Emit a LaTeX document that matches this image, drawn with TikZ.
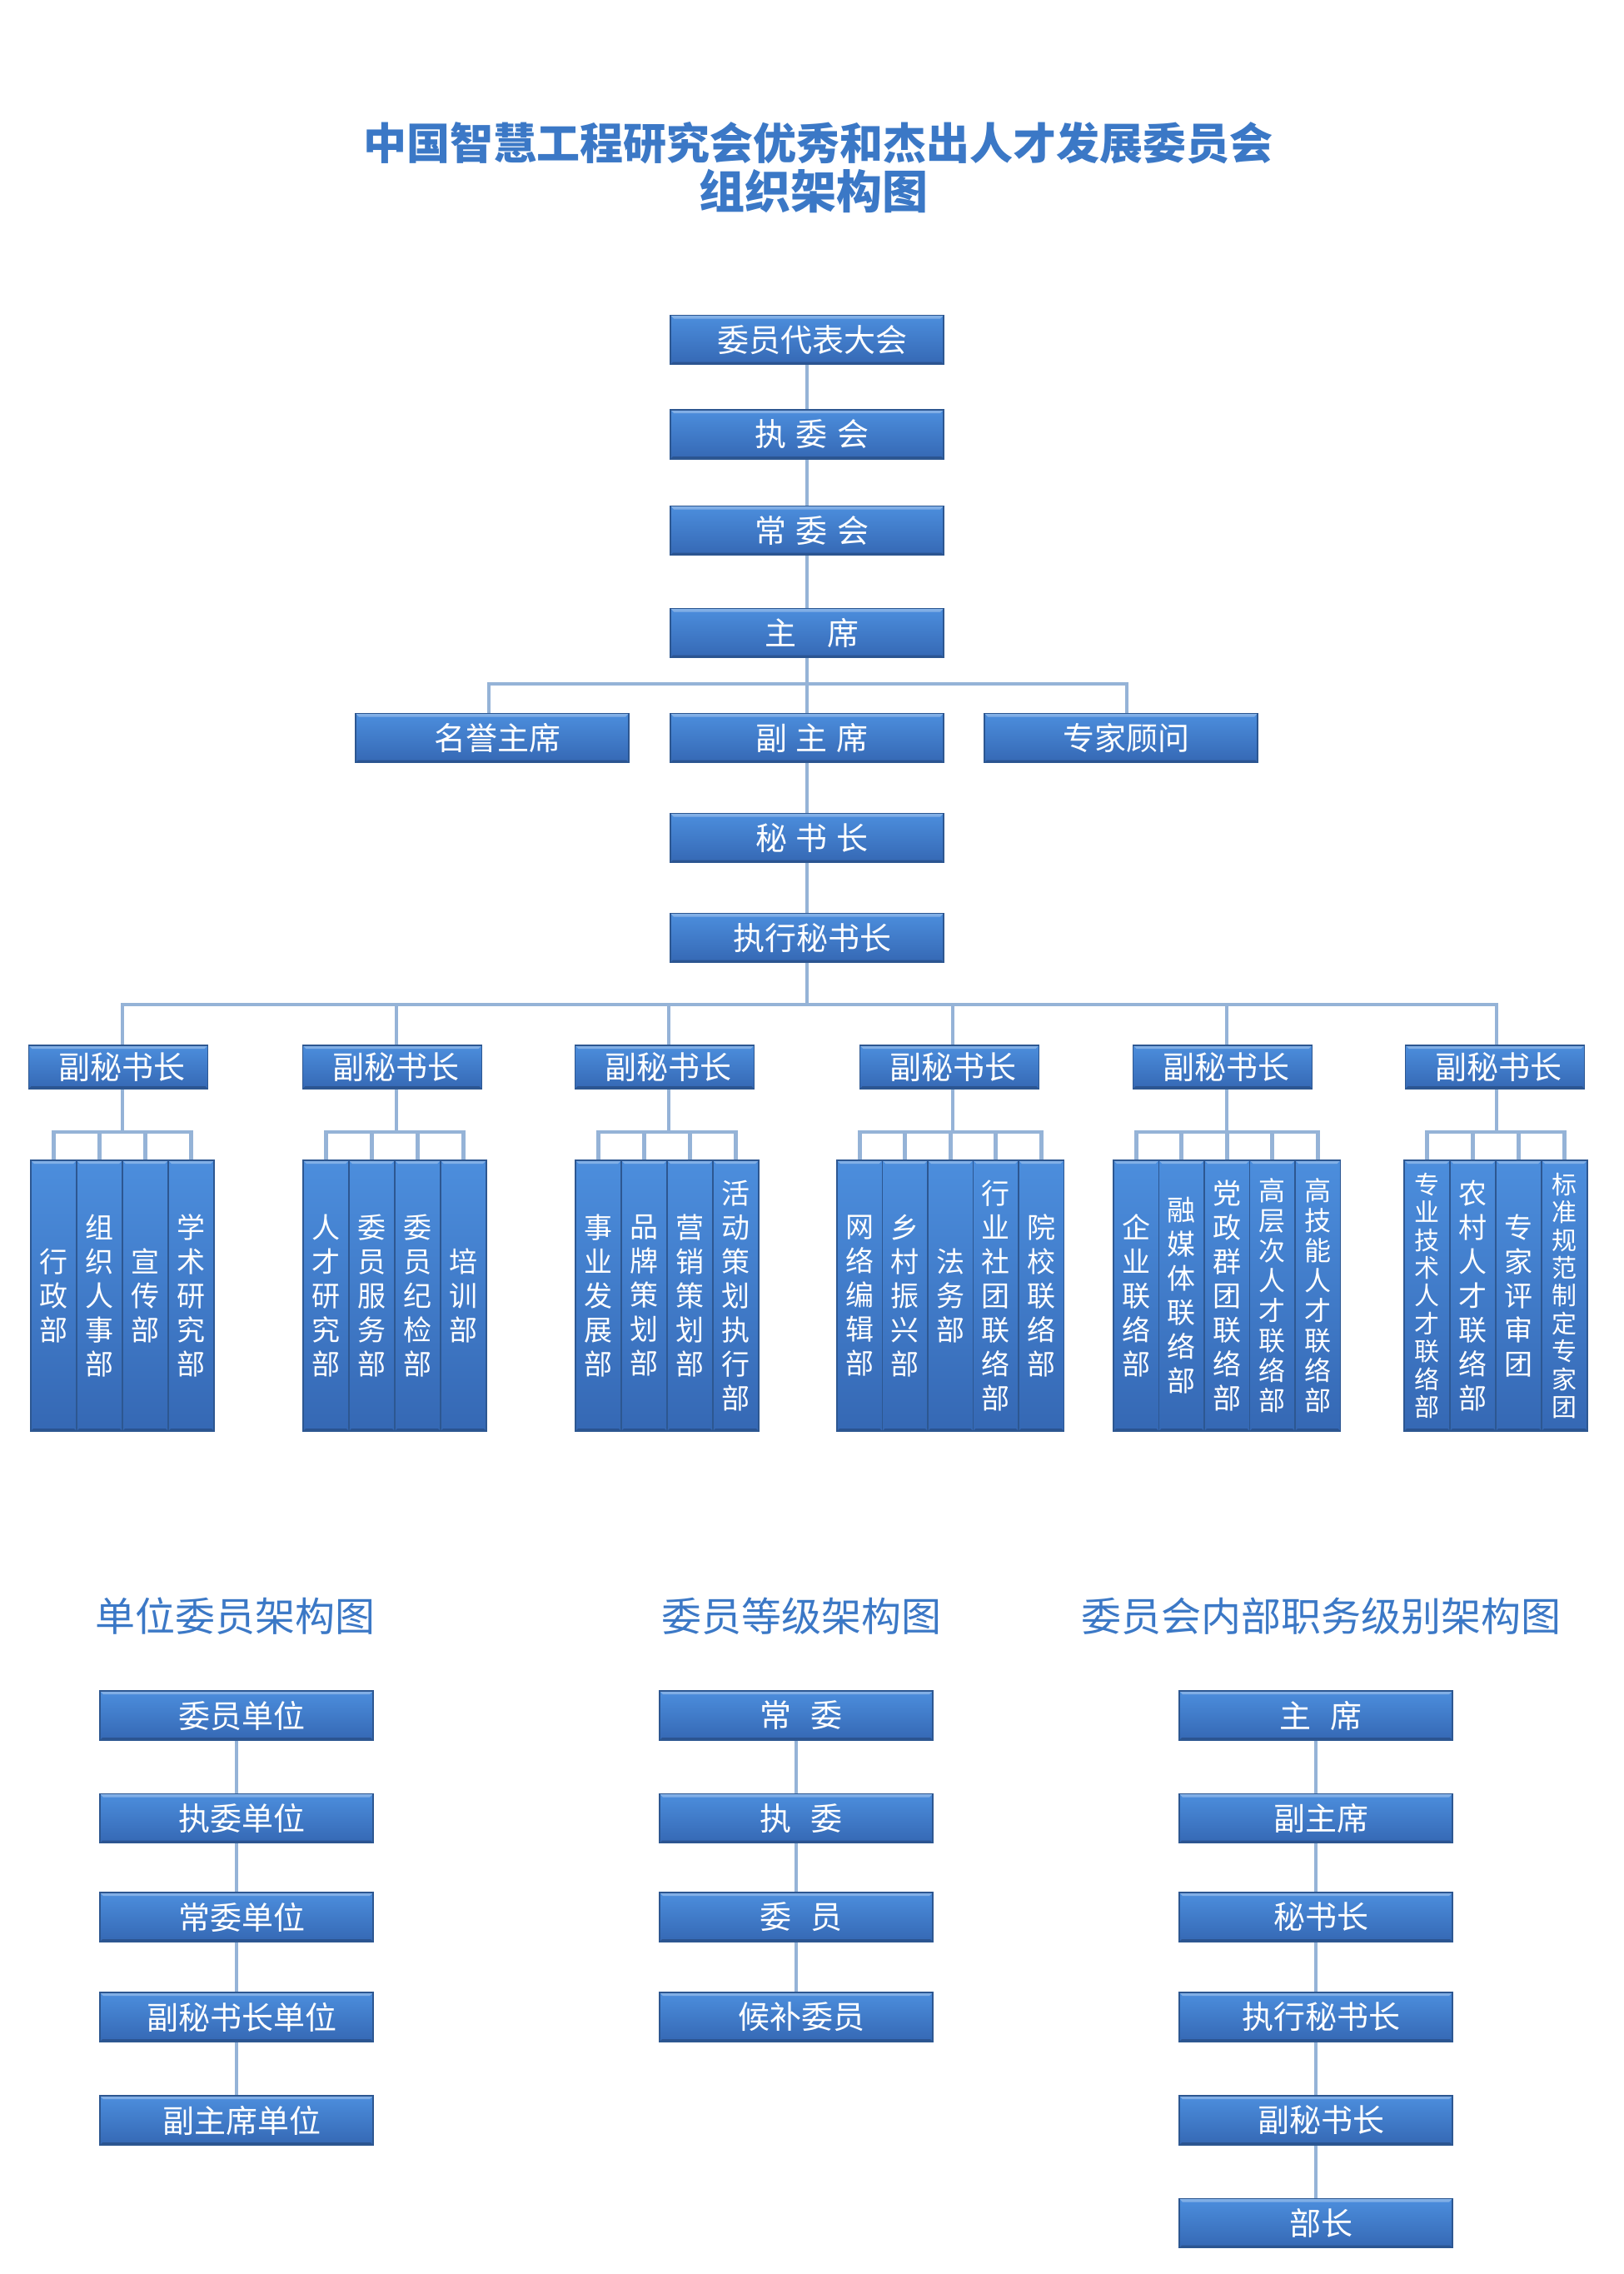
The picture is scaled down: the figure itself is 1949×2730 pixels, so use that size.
\documentclass[tikz,border=0pt]{standalone}
\usepackage{fontspec}
\newfontfamily\cjk{Noto Sans CJK SC}
\usetikzlibrary{calc}
\definecolor{boxtop}{HTML}{4C8EDD}
\definecolor{boxbot}{HTML}{3568B4}
\definecolor{boxline}{HTML}{2D5791}
\definecolor{connc}{HTML}{95B3D7}
\definecolor{titlec}{HTML}{3B78C6}
\newcommand\hgap[1]{\hspace{#1em}}
\tikzset{
  base/.style={rectangle, inner sep=0pt, top color=boxtop, bottom color=boxbot,
    draw=boxline, line width=0.6pt, text=white,
    path picture={
      \fill[white,opacity=0.3] (path picture bounding box.north west) -- (path picture bounding box.north east)
        -- ([xshift=-2pt,yshift=-2pt]path picture bounding box.north east) -- ([xshift=2pt,yshift=-2pt]path picture bounding box.north west) -- cycle;
      \fill[black,opacity=0.2] (path picture bounding box.south west) -- (path picture bounding box.south east)
        -- ([xshift=-1.5pt,yshift=1.5pt]path picture bounding box.south east) -- ([xshift=1.5pt,yshift=1.5pt]path picture bounding box.south west) -- cycle;
    }},
  hbox/.style={base, minimum width=164pt, minimum height=29.5pt, font=\cjk\fontsize{19}{22}\selectfont,
    execute at begin node=\hspace*{6pt}},
  sbox/.style={base, minimum width=107.5pt, minimum height=26pt, font=\cjk\fontsize{19}{22}\selectfont,
    execute at begin node=\hspace*{4pt}},
  vbox/.style={base, minimum width=27.5pt, minimum height=162.5pt, align=center, font=\cjk\fontsize{17}{20.5}\selectfont},
  vbox5/.style={vbox, minimum width=27.25pt},
  vboxs/.style={vbox5, font=\cjk\fontsize{16}{18}\selectfont},
  vboxt/.style={vbox, font=\cjk\fontsize{15}{16.7}\selectfont},
  conn/.style={draw=connc, line width=2.4pt},
  ttl/.style={text=titlec, align=center, inner sep=0pt},
}
\begin{document}
\begin{tikzpicture}[x=0.5pt,y=-0.5pt]
\useasboundingbox[fill=white] (0,0) rectangle (1949,2730);

% title
\node[ttl, font=\cjk\bfseries\fontsize{26}{28.5}\selectfont] (title) at (982,172) {中国智慧工程研究会优秀和杰出人才发展委员会};
\node[ttl, font=\cjk\bfseries\fontsize{27.5}{30}\selectfont] (title2) at (977,229) {组织架构图};

% main chain
\node[hbox] (n1) at (969,408) {委员代表大会};
\node[hbox] (n2) at (969,521.5) {执\hgap{0.3}委\hgap{0.3}会};
\node[hbox] (n3) at (969,637) {常\hgap{0.3}委\hgap{0.3}会};
\node[hbox] (n4) at (969,760) {主\hgap{1}席};
\node[hbox] (hon) at (591,886) {名誉主席};
\node[hbox] (vp) at (969,886) {副\hgap{0.28}主\hgap{0.28}席};
\node[hbox] (adv) at (1346,886) {专家顾问};
\node[hbox] (sg) at (969,1006) {秘\hgap{0.28}书\hgap{0.28}长};
\node[hbox] (esg) at (969,1126) {执行秘书长};

\coordinate (h1) at (969,821);
\coordinate (h2) at (969,1206);
\coordinate (bk) at (0,1359);

\draw[conn] (n1.south) -- (n2.north);
\draw[conn] (n2.south) -- (n3.north);
\draw[conn] (n3.south) -- (n4.north);
\draw[conn] (n4.south) -- (vp.north);
\draw[conn] ([xshift=-2pt]hon.north) |- (h1) -| ([xshift=3.5pt]adv.north);
\draw[conn] (vp.south) -- (sg.north);
\draw[conn] (sg.south) -- (esg.north);
\draw[conn] (esg.south) -- (h2);

% deputy secretaries
\node[sbox] (d1) at (142,1281) {副秘书长};
\node[sbox] (d2) at (471,1281) {副秘书长};
\node[sbox] (d3) at (798,1281) {副秘书长};
\node[sbox] (d4) at (1140,1281) {副秘书长};
\node[sbox] (d5) at (1468,1281) {副秘书长};
\node[sbox] (d6) at (1795,1281) {副秘书长};

% group 1
\node[vbox] (c11) at (64.5,1555.5) {行\\政\\部};
\node[vbox] (c12) at (119.5,1555.5) {组\\织\\人\\事\\部};
\node[vbox] (c13) at (174.5,1555.5) {宣\\传\\部};
\node[vbox] (c14) at (229.5,1555.5) {学\\术\\研\\究\\部};
% group 2
\node[vbox] (c21) at (391.5,1555.5) {人\\才\\研\\究\\部};
\node[vbox] (c22) at (446.5,1555.5) {委\\员\\服\\务\\部};
\node[vbox] (c23) at (501.5,1555.5) {委\\员\\纪\\检\\部};
\node[vbox] (c24) at (556.5,1555.5) {培\\训\\部};
% group 3
\node[vbox] (c31) at (718.5,1555.5) {事\\业\\发\\展\\部};
\node[vbox] (c32) at (773.5,1555.5) {品\\牌\\策\\划\\部};
\node[vbox] (c33) at (828.5,1555.5) {营\\销\\策\\划\\部};
\node[vbox] (c34) at (883.5,1555.5) {活\\动\\策\\划\\执\\行\\部};
% group 4
\node[vbox5] (c41) at (1032.25,1555.5) {网\\络\\编\\辑\\部};
\node[vbox5] (c42) at (1086.75,1555.5) {乡\\村\\振\\兴\\部};
\node[vbox5] (c43) at (1141.25,1555.5) {法\\务\\部};
\node[vbox5] (c44) at (1195.75,1555.5) {行\\业\\社\\团\\联\\络\\部};
\node[vbox5] (c45) at (1250.25,1555.5) {院\\校\\联\\络\\部};
% group 5
\node[vbox5] (c51) at (1364.25,1555.5) {企\\业\\联\\络\\部};
\node[vbox5] (c52) at (1418.75,1555.5) {融\\媒\\体\\联\\络\\部};
\node[vbox5] (c53) at (1473.25,1555.5) {党\\政\\群\\团\\联\\络\\部};
\node[vboxs] (c54) at (1527.75,1555.5) {高\\层\\次\\人\\才\\联\\络\\部};
\node[vboxs] (c55) at (1582.25,1555.5) {高\\技\\能\\人\\才\\联\\络\\部};
% group 6
\node[vboxt] (c61) at (1713.5,1555.5) {专\\业\\技\\术\\人\\才\\联\\络\\部};
\node[vbox] (c62) at (1768.5,1555.5) {农\\村\\人\\才\\联\\络\\部};
\node[vbox] (c63) at (1823.5,1555.5) {专\\家\\评\\审\\团};
\node[vboxt] (c64) at (1878.5,1555.5) {标\\准\\规\\范\\制\\定\\专\\家\\团};

\foreach \g/\n/\s in {1/4/2.5,2/4/2.5,3/4/2.5,4/5/2,5/5/2.5,6/4/1} {
  \draw[conn] ([xshift=\s pt]d\g.north) |- (h2);
  \draw[conn] ([xshift=\s pt]d\g.south) -- ([xshift=\s pt]d\g.south |- bk);
  \foreach \i in {1,...,\n} {\draw[conn] (c\g\i.north) |- ([xshift=\s pt]d\g.south |- bk);}
}

% bottom sub-charts
\node[ttl, font=\cjk\fontsize{24}{28}\selectfont] (st1) at (282,1940) {单位委员架构图};
\node[ttl, font=\cjk\fontsize{24}{28}\selectfont] (st2) at (962,1940) {委员等级架构图};
\node[ttl, font=\cjk\fontsize{24}{28}\selectfont] (st3) at (1586,1940) {委员会内部职务级别架构图};

\node[hbox] (a1) at (284,2059.5) {委员单位};
\node[hbox] (a2) at (284,2183) {执委单位};
\node[hbox] (a3) at (284,2301.5) {常委单位};
\node[hbox] (a4) at (284,2421.5) {副秘书长单位};
\node[hbox] (a5) at (284,2545.5) {副主席单位};

\node[hbox] (b1) at (956,2059.5) {常\hgap{0.6}委};
\node[hbox] (b2) at (956,2183) {执\hgap{0.6}委};
\node[hbox] (b3) at (956,2301.5) {委\hgap{0.6}员};
\node[hbox] (b4) at (956,2421.5) {候补委员};

\node[hbox] (r1) at (1580,2059.5) {主\hgap{0.6}席};
\node[hbox] (r2) at (1580,2183) {副主席};
\node[hbox] (r3) at (1580,2301.5) {秘书长};
\node[hbox] (r4) at (1580,2421.5) {执行秘书长};
\node[hbox] (r5) at (1580,2545.5) {副秘书长};
\node[hbox] (r6) at (1580,2669) {部长};

\draw[conn] (a1) -- (a2) (a2) -- (a3) (a3) -- (a4) (a4) -- (a5);
\draw[conn] (b1) -- (b2) (b2) -- (b3) (b3) -- (b4);
\draw[conn] (r1) -- (r2) (r2) -- (r3) (r3) -- (r4) (r4) -- (r5) (r5) -- (r6);
\end{tikzpicture}
\end{document}
